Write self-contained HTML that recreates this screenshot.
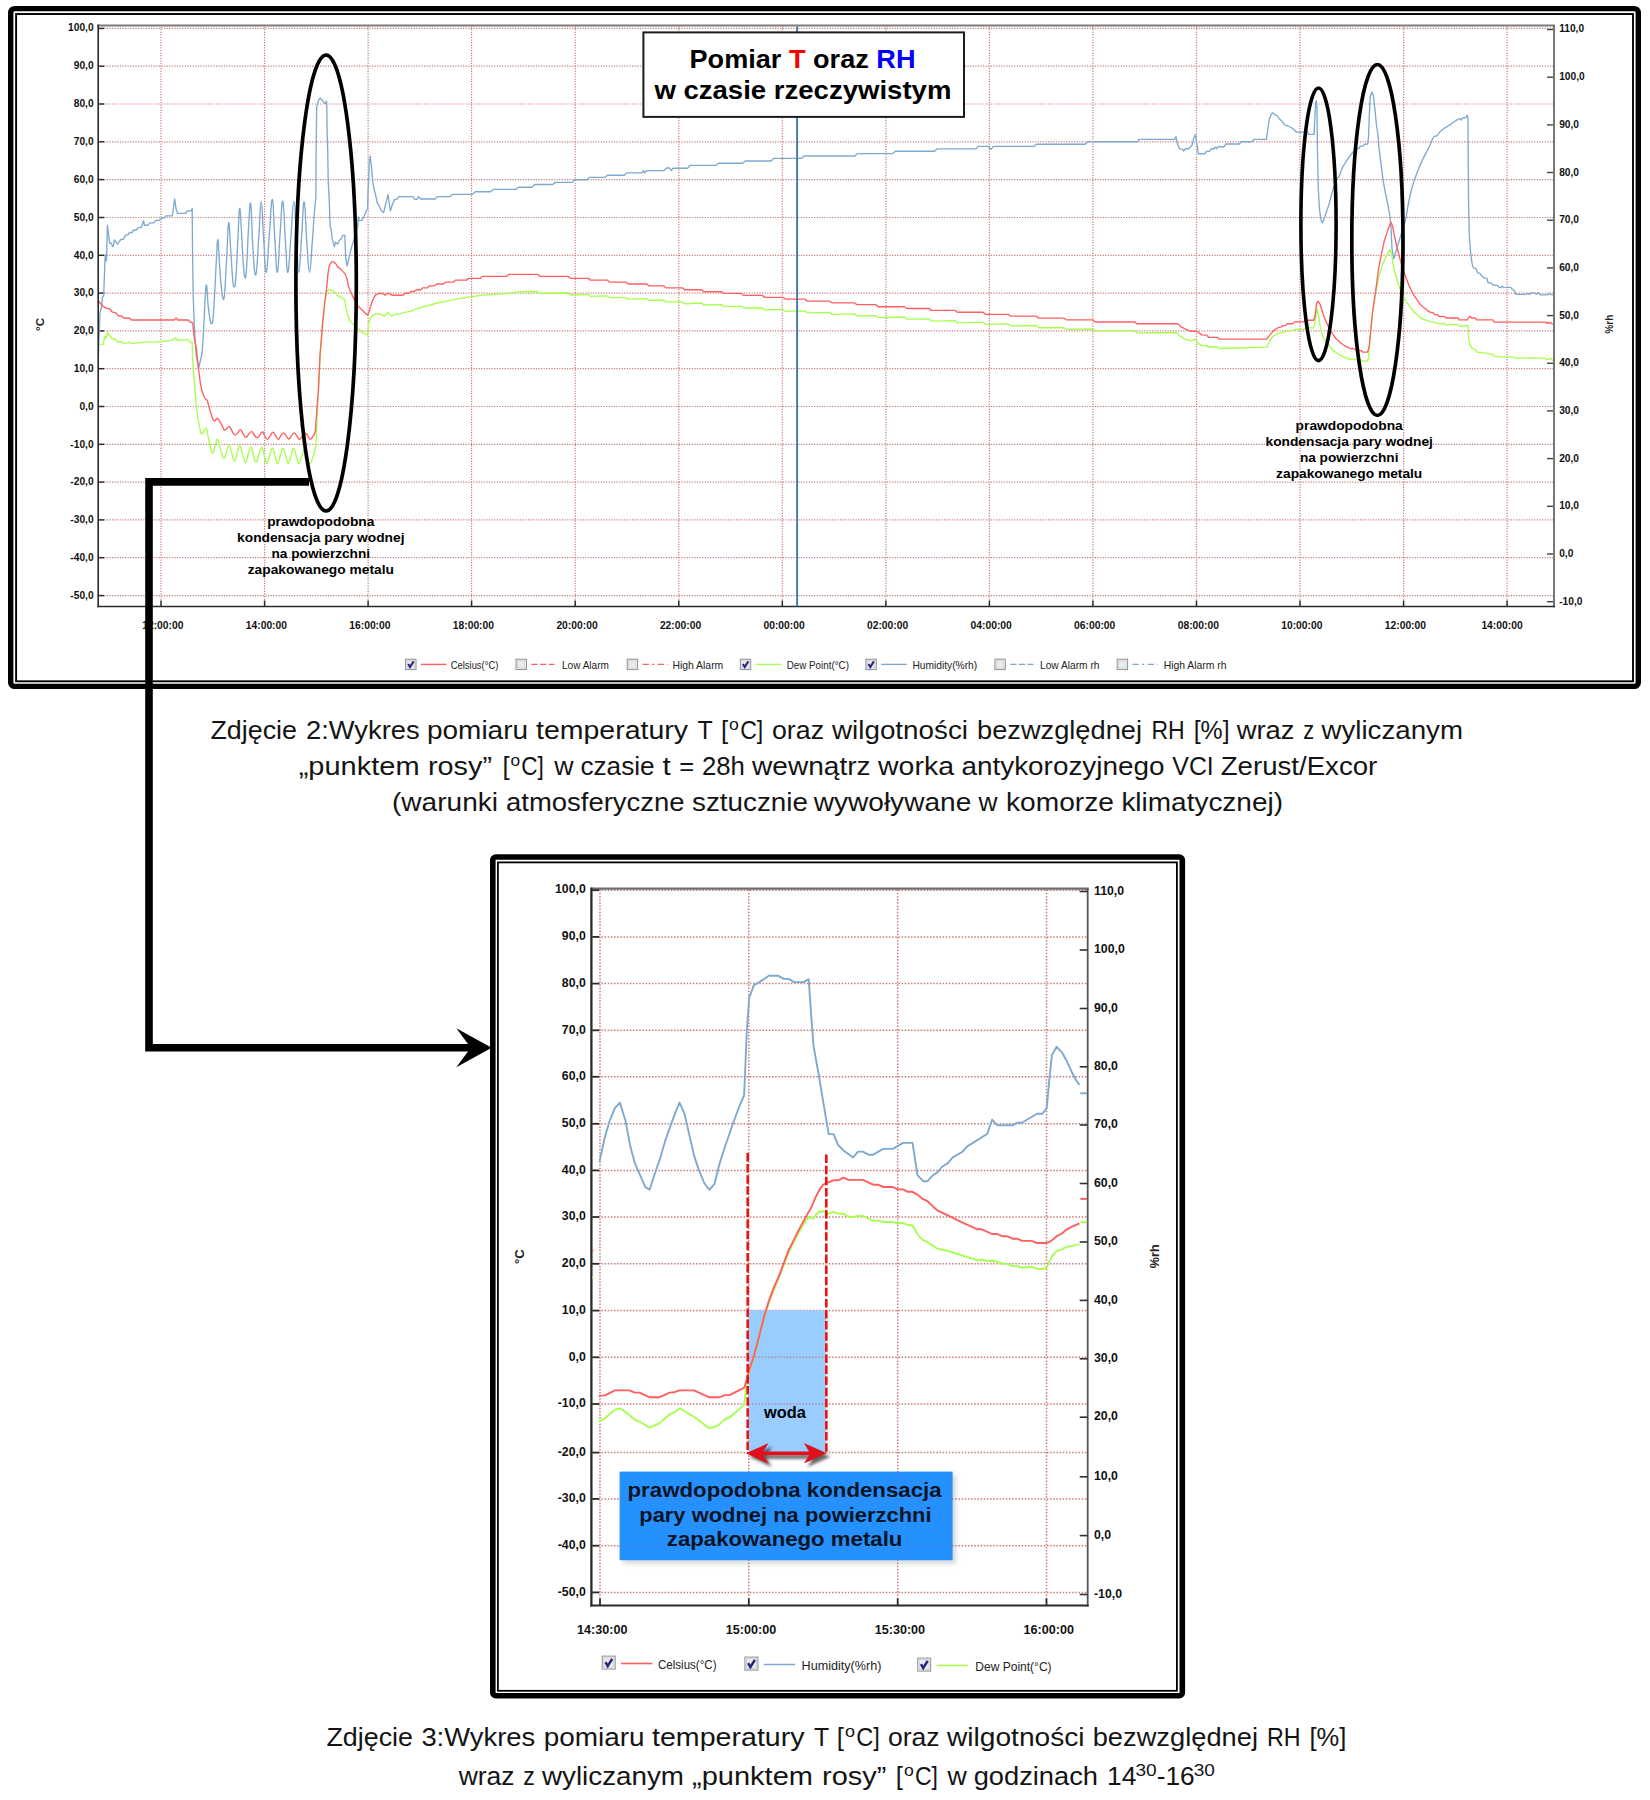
<!DOCTYPE html>
<html lang="pl"><head><meta charset="utf-8"><title>Wykres pomiaru T oraz RH</title>
<style>html,body{margin:0;padding:0;background:#fff}body{width:1650px;height:1800px;overflow:hidden}svg{display:block;font-family:"Liberation Sans", sans-serif}</style></head><body>
<svg width="1650" height="1800" viewBox="0 0 1650 1800">
<defs><filter id="blur1" x="-20%" y="-50%" width="140%" height="200%"><feGaussianBlur stdDeviation="1.6"/></filter><filter id="blur2" x="-10%" y="-10%" width="120%" height="120%"><feGaussianBlur stdDeviation="2.5"/></filter></defs>
<rect width="1650" height="1800" fill="#fff"/>
<rect x="10.7" y="8.6" width="1627.6" height="677.8" rx="4" fill="#fff" stroke="#000" stroke-width="5.4"/>
<rect x="16.1" y="14" width="1616.9" height="667.3" fill="none" stroke="#000" stroke-width="1.9"/>
<line x1="104.2" y1="28.4" x2="1553.0" y2="28.4" stroke="#c97b7b" stroke-width="1.2" stroke-dasharray="1.2 1.4"/>
<line x1="104.2" y1="66.2" x2="1553.0" y2="66.2" stroke="#c97b7b" stroke-width="1.2" stroke-dasharray="1.2 1.4"/>
<line x1="104.2" y1="104.0" x2="1553.0" y2="104.0" stroke="#c97b7b" stroke-width="1.2" stroke-dasharray="1.2 1.4"/>
<line x1="104.2" y1="141.8" x2="1553.0" y2="141.8" stroke="#c97b7b" stroke-width="1.2" stroke-dasharray="1.2 1.4"/>
<line x1="104.2" y1="179.6" x2="1553.0" y2="179.6" stroke="#c97b7b" stroke-width="1.2" stroke-dasharray="1.2 1.4"/>
<line x1="104.2" y1="217.5" x2="1553.0" y2="217.5" stroke="#c97b7b" stroke-width="1.2" stroke-dasharray="1.2 1.4"/>
<line x1="104.2" y1="255.3" x2="1553.0" y2="255.3" stroke="#c97b7b" stroke-width="1.2" stroke-dasharray="1.2 1.4"/>
<line x1="104.2" y1="293.1" x2="1553.0" y2="293.1" stroke="#c97b7b" stroke-width="1.2" stroke-dasharray="1.2 1.4"/>
<line x1="104.2" y1="330.9" x2="1553.0" y2="330.9" stroke="#c97b7b" stroke-width="1.2" stroke-dasharray="1.2 1.4"/>
<line x1="104.2" y1="368.7" x2="1553.0" y2="368.7" stroke="#c97b7b" stroke-width="1.2" stroke-dasharray="1.2 1.4"/>
<line x1="104.2" y1="406.5" x2="1553.0" y2="406.5" stroke="#c97b7b" stroke-width="1.2" stroke-dasharray="1.2 1.4"/>
<line x1="104.2" y1="444.3" x2="1553.0" y2="444.3" stroke="#c97b7b" stroke-width="1.2" stroke-dasharray="1.2 1.4"/>
<line x1="104.2" y1="482.1" x2="1553.0" y2="482.1" stroke="#c97b7b" stroke-width="1.2" stroke-dasharray="1.2 1.4"/>
<line x1="104.2" y1="519.9" x2="1553.0" y2="519.9" stroke="#c97b7b" stroke-width="1.2" stroke-dasharray="1.2 1.4"/>
<line x1="104.2" y1="557.7" x2="1553.0" y2="557.7" stroke="#c97b7b" stroke-width="1.2" stroke-dasharray="1.2 1.4"/>
<line x1="104.2" y1="595.6" x2="1553.0" y2="595.6" stroke="#c97b7b" stroke-width="1.2" stroke-dasharray="1.2 1.4"/>
<line x1="161.0" y1="26.5" x2="161.0" y2="600.5" stroke="#c97b7b" stroke-width="1.2" stroke-dasharray="1.2 1.4"/>
<line x1="264.6" y1="26.5" x2="264.6" y2="600.5" stroke="#c97b7b" stroke-width="1.2" stroke-dasharray="1.2 1.4"/>
<line x1="368.1" y1="26.5" x2="368.1" y2="600.5" stroke="#c97b7b" stroke-width="1.2" stroke-dasharray="1.2 1.4"/>
<line x1="471.6" y1="26.5" x2="471.6" y2="600.5" stroke="#c97b7b" stroke-width="1.2" stroke-dasharray="1.2 1.4"/>
<line x1="575.2" y1="26.5" x2="575.2" y2="600.5" stroke="#c97b7b" stroke-width="1.2" stroke-dasharray="1.2 1.4"/>
<line x1="678.8" y1="26.5" x2="678.8" y2="600.5" stroke="#c97b7b" stroke-width="1.2" stroke-dasharray="1.2 1.4"/>
<line x1="782.3" y1="26.5" x2="782.3" y2="600.5" stroke="#c97b7b" stroke-width="1.2" stroke-dasharray="1.2 1.4"/>
<line x1="885.9" y1="26.5" x2="885.9" y2="600.5" stroke="#c97b7b" stroke-width="1.2" stroke-dasharray="1.2 1.4"/>
<line x1="989.4" y1="26.5" x2="989.4" y2="600.5" stroke="#c97b7b" stroke-width="1.2" stroke-dasharray="1.2 1.4"/>
<line x1="1092.9" y1="26.5" x2="1092.9" y2="600.5" stroke="#c97b7b" stroke-width="1.2" stroke-dasharray="1.2 1.4"/>
<line x1="1196.5" y1="26.5" x2="1196.5" y2="600.5" stroke="#c97b7b" stroke-width="1.2" stroke-dasharray="1.2 1.4"/>
<line x1="1300.0" y1="26.5" x2="1300.0" y2="600.5" stroke="#c97b7b" stroke-width="1.2" stroke-dasharray="1.2 1.4"/>
<line x1="1403.6" y1="26.5" x2="1403.6" y2="600.5" stroke="#c97b7b" stroke-width="1.2" stroke-dasharray="1.2 1.4"/>
<line x1="1507.1" y1="26.5" x2="1507.1" y2="600.5" stroke="#c97b7b" stroke-width="1.2" stroke-dasharray="1.2 1.4"/>
<line x1="97.4" y1="25.5" x2="1555.0" y2="25.5" stroke="#7d7d7d" stroke-width="2"/>
<line x1="1554.0" y1="25.5" x2="1554.0" y2="607.3" stroke="#777" stroke-width="2"/>
<line x1="98.2" y1="28.4" x2="104.2" y2="28.4" stroke="#2a2a2a" stroke-width="1.5"/>
<text x="93.6" y="30.9" font-size="10.2" font-weight="bold" text-anchor="end" fill="#111">100,0</text>
<line x1="98.2" y1="66.2" x2="104.2" y2="66.2" stroke="#2a2a2a" stroke-width="1.5"/>
<text x="93.6" y="69.4" font-size="10.2" font-weight="bold" text-anchor="end" fill="#111">90,0</text>
<line x1="98.2" y1="104.0" x2="104.2" y2="104.0" stroke="#2a2a2a" stroke-width="1.5"/>
<text x="93.6" y="107.2" font-size="10.2" font-weight="bold" text-anchor="end" fill="#111">80,0</text>
<line x1="98.2" y1="141.8" x2="104.2" y2="141.8" stroke="#2a2a2a" stroke-width="1.5"/>
<text x="93.6" y="145.0" font-size="10.2" font-weight="bold" text-anchor="end" fill="#111">70,0</text>
<line x1="98.2" y1="179.6" x2="104.2" y2="179.6" stroke="#2a2a2a" stroke-width="1.5"/>
<text x="93.6" y="182.8" font-size="10.2" font-weight="bold" text-anchor="end" fill="#111">60,0</text>
<line x1="98.2" y1="217.5" x2="104.2" y2="217.5" stroke="#2a2a2a" stroke-width="1.5"/>
<text x="93.6" y="220.7" font-size="10.2" font-weight="bold" text-anchor="end" fill="#111">50,0</text>
<line x1="98.2" y1="255.3" x2="104.2" y2="255.3" stroke="#2a2a2a" stroke-width="1.5"/>
<text x="93.6" y="258.5" font-size="10.2" font-weight="bold" text-anchor="end" fill="#111">40,0</text>
<line x1="98.2" y1="293.1" x2="104.2" y2="293.1" stroke="#2a2a2a" stroke-width="1.5"/>
<text x="93.6" y="296.3" font-size="10.2" font-weight="bold" text-anchor="end" fill="#111">30,0</text>
<line x1="98.2" y1="330.9" x2="104.2" y2="330.9" stroke="#2a2a2a" stroke-width="1.5"/>
<text x="93.6" y="334.1" font-size="10.2" font-weight="bold" text-anchor="end" fill="#111">20,0</text>
<line x1="98.2" y1="368.7" x2="104.2" y2="368.7" stroke="#2a2a2a" stroke-width="1.5"/>
<text x="93.6" y="371.9" font-size="10.2" font-weight="bold" text-anchor="end" fill="#111">10,0</text>
<line x1="98.2" y1="406.5" x2="104.2" y2="406.5" stroke="#2a2a2a" stroke-width="1.5"/>
<text x="93.6" y="409.7" font-size="10.2" font-weight="bold" text-anchor="end" fill="#111">0,0</text>
<line x1="98.2" y1="444.3" x2="104.2" y2="444.3" stroke="#2a2a2a" stroke-width="1.5"/>
<text x="93.6" y="447.5" font-size="10.2" font-weight="bold" text-anchor="end" fill="#111">-10,0</text>
<line x1="98.2" y1="482.1" x2="104.2" y2="482.1" stroke="#2a2a2a" stroke-width="1.5"/>
<text x="93.6" y="485.3" font-size="10.2" font-weight="bold" text-anchor="end" fill="#111">-20,0</text>
<line x1="98.2" y1="519.9" x2="104.2" y2="519.9" stroke="#2a2a2a" stroke-width="1.5"/>
<text x="93.6" y="523.1" font-size="10.2" font-weight="bold" text-anchor="end" fill="#111">-30,0</text>
<line x1="98.2" y1="557.7" x2="104.2" y2="557.7" stroke="#2a2a2a" stroke-width="1.5"/>
<text x="93.6" y="560.9" font-size="10.2" font-weight="bold" text-anchor="end" fill="#111">-40,0</text>
<line x1="98.2" y1="595.6" x2="104.2" y2="595.6" stroke="#2a2a2a" stroke-width="1.5"/>
<text x="93.6" y="598.8" font-size="10.2" font-weight="bold" text-anchor="end" fill="#111">-50,0</text>
<line x1="1547.0" y1="29.5" x2="1554.0" y2="29.5" stroke="#444" stroke-width="1.4"/>
<text x="1559.2" y="32.0" font-size="10.2" font-weight="bold" text-anchor="start" fill="#111">110,0</text>
<line x1="1547.0" y1="77.2" x2="1554.0" y2="77.2" stroke="#444" stroke-width="1.4"/>
<text x="1559.2" y="80.3" font-size="10.2" font-weight="bold" text-anchor="start" fill="#111">100,0</text>
<line x1="1547.0" y1="124.9" x2="1554.0" y2="124.9" stroke="#444" stroke-width="1.4"/>
<text x="1559.2" y="128.0" font-size="10.2" font-weight="bold" text-anchor="start" fill="#111">90,0</text>
<line x1="1547.0" y1="172.5" x2="1554.0" y2="172.5" stroke="#444" stroke-width="1.4"/>
<text x="1559.2" y="175.6" font-size="10.2" font-weight="bold" text-anchor="start" fill="#111">80,0</text>
<line x1="1547.0" y1="220.2" x2="1554.0" y2="220.2" stroke="#444" stroke-width="1.4"/>
<text x="1559.2" y="223.3" font-size="10.2" font-weight="bold" text-anchor="start" fill="#111">70,0</text>
<line x1="1547.0" y1="267.9" x2="1554.0" y2="267.9" stroke="#444" stroke-width="1.4"/>
<text x="1559.2" y="271.0" font-size="10.2" font-weight="bold" text-anchor="start" fill="#111">60,0</text>
<line x1="1547.0" y1="315.6" x2="1554.0" y2="315.6" stroke="#444" stroke-width="1.4"/>
<text x="1559.2" y="318.7" font-size="10.2" font-weight="bold" text-anchor="start" fill="#111">50,0</text>
<line x1="1547.0" y1="363.3" x2="1554.0" y2="363.3" stroke="#444" stroke-width="1.4"/>
<text x="1559.2" y="366.4" font-size="10.2" font-weight="bold" text-anchor="start" fill="#111">40,0</text>
<line x1="1547.0" y1="410.9" x2="1554.0" y2="410.9" stroke="#444" stroke-width="1.4"/>
<text x="1559.2" y="414.0" font-size="10.2" font-weight="bold" text-anchor="start" fill="#111">30,0</text>
<line x1="1547.0" y1="458.6" x2="1554.0" y2="458.6" stroke="#444" stroke-width="1.4"/>
<text x="1559.2" y="461.7" font-size="10.2" font-weight="bold" text-anchor="start" fill="#111">20,0</text>
<line x1="1547.0" y1="506.3" x2="1554.0" y2="506.3" stroke="#444" stroke-width="1.4"/>
<text x="1559.2" y="509.4" font-size="10.2" font-weight="bold" text-anchor="start" fill="#111">10,0</text>
<line x1="1547.0" y1="554.0" x2="1554.0" y2="554.0" stroke="#444" stroke-width="1.4"/>
<text x="1559.2" y="557.1" font-size="10.2" font-weight="bold" text-anchor="start" fill="#111">0,0</text>
<line x1="1547.0" y1="601.7" x2="1554.0" y2="601.7" stroke="#444" stroke-width="1.4"/>
<text x="1559.2" y="604.8" font-size="10.2" font-weight="bold" text-anchor="start" fill="#111">-10,0</text>
<line x1="161.0" y1="600.5" x2="161.0" y2="606.5" stroke="#2a2a2a" stroke-width="1.5"/>
<text x="162.8" y="629.0" font-size="10.3" font-weight="bold" text-anchor="middle" fill="#111">12:00:00</text>
<line x1="264.6" y1="600.5" x2="264.6" y2="606.5" stroke="#2a2a2a" stroke-width="1.5"/>
<text x="266.4" y="629.0" font-size="10.3" font-weight="bold" text-anchor="middle" fill="#111">14:00:00</text>
<line x1="368.1" y1="600.5" x2="368.1" y2="606.5" stroke="#2a2a2a" stroke-width="1.5"/>
<text x="369.9" y="629.0" font-size="10.3" font-weight="bold" text-anchor="middle" fill="#111">16:00:00</text>
<line x1="471.6" y1="600.5" x2="471.6" y2="606.5" stroke="#2a2a2a" stroke-width="1.5"/>
<text x="473.4" y="629.0" font-size="10.3" font-weight="bold" text-anchor="middle" fill="#111">18:00:00</text>
<line x1="575.2" y1="600.5" x2="575.2" y2="606.5" stroke="#2a2a2a" stroke-width="1.5"/>
<text x="577.0" y="629.0" font-size="10.3" font-weight="bold" text-anchor="middle" fill="#111">20:00:00</text>
<line x1="678.8" y1="600.5" x2="678.8" y2="606.5" stroke="#2a2a2a" stroke-width="1.5"/>
<text x="680.5" y="629.0" font-size="10.3" font-weight="bold" text-anchor="middle" fill="#111">22:00:00</text>
<line x1="782.3" y1="600.5" x2="782.3" y2="606.5" stroke="#2a2a2a" stroke-width="1.5"/>
<text x="784.1" y="629.0" font-size="10.3" font-weight="bold" text-anchor="middle" fill="#111">00:00:00</text>
<line x1="885.9" y1="600.5" x2="885.9" y2="606.5" stroke="#2a2a2a" stroke-width="1.5"/>
<text x="887.6" y="629.0" font-size="10.3" font-weight="bold" text-anchor="middle" fill="#111">02:00:00</text>
<line x1="989.4" y1="600.5" x2="989.4" y2="606.5" stroke="#2a2a2a" stroke-width="1.5"/>
<text x="991.2" y="629.0" font-size="10.3" font-weight="bold" text-anchor="middle" fill="#111">04:00:00</text>
<line x1="1092.9" y1="600.5" x2="1092.9" y2="606.5" stroke="#2a2a2a" stroke-width="1.5"/>
<text x="1094.7" y="629.0" font-size="10.3" font-weight="bold" text-anchor="middle" fill="#111">06:00:00</text>
<line x1="1196.5" y1="600.5" x2="1196.5" y2="606.5" stroke="#2a2a2a" stroke-width="1.5"/>
<text x="1198.3" y="629.0" font-size="10.3" font-weight="bold" text-anchor="middle" fill="#111">08:00:00</text>
<line x1="1300.0" y1="600.5" x2="1300.0" y2="606.5" stroke="#2a2a2a" stroke-width="1.5"/>
<text x="1301.8" y="629.0" font-size="10.3" font-weight="bold" text-anchor="middle" fill="#111">10:00:00</text>
<line x1="1403.6" y1="600.5" x2="1403.6" y2="606.5" stroke="#2a2a2a" stroke-width="1.5"/>
<text x="1405.4" y="629.0" font-size="10.3" font-weight="bold" text-anchor="middle" fill="#111">12:00:00</text>
<line x1="1507.1" y1="600.5" x2="1507.1" y2="606.5" stroke="#2a2a2a" stroke-width="1.5"/>
<text x="1502.0" y="629.0" font-size="10.3" font-weight="bold" text-anchor="middle" fill="#111">14:00:00</text>
<text transform="translate(43.8,324.4) rotate(-90)" font-size="11.6" font-weight="bold" text-anchor="middle" fill="#222">°C</text>
<text transform="translate(1613.0,324.2) rotate(-90)" font-size="10.1" font-weight="bold" text-anchor="middle" fill="#222">%rh</text>
<path d="M98.4 355.0L99.9 313.0L101.8 306.0L102.3 297.6L103.7 295.6L104.7 267.5L105.2 254.8L105.9 260.7L106.5 260.7L107.4 225.2L109.6 243.2L110.7 242.7L113.0 246.9L114.4 240.0L117.5 244.1L120.8 239.5L123.2 239.3L125.9 234.9L128.0 234.9L129.5 232.5L131.9 232.5L133.9 230.0L136.3 230.0L138.2 227.6L141.2 227.6L143.6 220.8L144.4 225.2L148.0 225.2L149.9 222.8L153.8 222.8L155.7 220.3L159.6 220.3L161.1 218.1L164.0 218.1L165.9 215.8L172.3 215.8L174.7 199.0L176.1 209.2L177.6 213.3L185.9 213.3L187.3 210.9L191.2 210.9L192.2 208.7L192.5 248.0L193.2 296.6L194.6 331.6L196.1 355.0L198.6 368.5L201.9 354.0C203.0 344.6 203.1 338.4 203.8 325.8C204.5 313.2 204.7 305.5 205.3 296.6C205.9 287.7 206.0 283.3 206.6 285.4C207.2 287.5 207.4 298.7 208.2 306.3C209.0 313.9 209.5 316.3 210.2 320.0C210.9 323.7 211.0 323.7 211.6 323.3C212.2 322.9 212.4 326.0 213.1 318.0C213.8 310.0 214.3 300.2 215.0 286.9C215.7 273.6 215.9 268.1 216.5 257.7C217.1 247.3 217.3 238.7 217.9 239.8C218.5 240.9 218.7 252.2 219.4 262.6C220.1 273.0 220.5 278.9 221.3 286.9C222.1 294.9 222.4 297.9 223.1 299.0C223.8 300.1 223.9 300.9 224.7 291.8C225.5 282.7 225.8 272.9 226.7 257.7C227.6 242.5 227.7 224.9 228.6 222.8C229.5 220.7 229.7 236.0 230.6 248.0C231.5 260.0 231.7 268.6 232.5 277.2C233.3 285.8 233.5 286.9 234.2 286.9C234.9 286.9 235.1 287.9 235.9 277.2C236.7 266.5 237.1 253.4 237.9 238.3C238.7 223.2 238.9 210.8 239.6 208.7C240.3 206.6 240.5 216.7 241.3 228.6C242.1 240.5 242.4 251.8 243.2 262.6C244.0 273.4 244.3 276.6 245.0 277.7C245.7 278.8 245.8 278.3 246.6 267.5C247.4 256.7 247.6 242.6 248.5 228.6C249.4 214.6 249.7 199.5 250.7 203.8C251.7 208.1 251.8 232.4 252.9 248.0C254.0 263.6 254.5 276.9 255.8 274.8C257.1 272.7 257.5 254.4 258.7 238.3C259.9 222.2 260.1 201.4 261.2 201.4C262.3 201.4 262.5 222.7 263.6 238.3C264.7 253.9 265.0 273.4 266.3 272.3C267.6 271.2 268.1 249.4 269.4 233.4C270.7 217.4 271.2 198.3 272.4 199.4C273.6 200.5 273.7 222.3 274.8 238.3C275.9 254.3 276.2 273.4 277.4 272.3C278.6 271.2 278.9 249.0 280.1 233.4C281.3 217.8 281.6 199.2 282.8 201.4C284.0 203.6 284.4 227.6 285.5 243.2C286.6 258.8 286.7 273.4 287.9 272.3C289.1 271.2 289.5 253.9 290.8 238.3C292.1 222.7 292.6 201.4 293.9 201.4C295.2 201.4 295.4 222.7 296.5 238.3C297.6 253.9 297.7 272.3 298.8 272.3C299.9 272.3 300.3 253.8 301.5 238.3C302.7 222.8 303.0 200.8 304.2 201.9C305.4 203.0 305.7 227.7 306.9 243.2C308.1 258.7 308.3 272.3 309.5 272.3C310.7 272.3 311.1 257.1 312.2 243.2C313.3 229.3 313.8 219.3 314.6 209.2L315.9 197.5L316.1 150.0L316.7 107.2L317.9 102.3L319.1 99.3L320.3 98.1L322.2 100.2L324.0 102.7L325.5 103.6L326.6 101.1L326.8 107.2L327.1 131.7L327.7 150.0L328.2 180.0L329.2 199.4L329.9 218.9L330.2 227.1L331.1 228.6L332.1 238.3L333.6 244.1L334.4 246.6L335.5 242.2L337.5 244.1L339.4 240.3L341.4 238.8L342.8 235.4L344.8 235.4L345.7 257.7L347.0 266.0L349.1 257.7L351.6 247.1L354.0 239.3L355.9 232.5L357.9 225.7L358.4 216.9L359.3 220.3L361.8 220.3L364.2 216.0L366.1 211.1L367.6 208.7L368.1 189.7L368.6 180.0L369.3 162.0L370.2 156.0L371.3 165.0L372.6 180.0L373.9 188.7L375.9 196.5L377.3 202.8L379.3 206.2L381.2 210.6L383.6 212.8L385.6 204.3L388.0 194.6L389.5 205.3L390.4 210.9L392.4 204.3L394.8 199.4L397.2 199.0L398.7 196.7L413.1 196.6L414.8 199.4L417.0 199.4L418.5 196.6L420.7 199.0L434.9 199.0L437.5 196.6L450.2 196.6L452.4 194.4L472.0 194.4L475.3 191.7L490.6 191.7L493.4 189.4L515.6 189.4L518.9 187.2L532.0 187.2L534.8 184.5L552.7 184.5L555.4 182.4L572.4 182.4L574.6 179.7L587.2 179.7L589.8 177.3L605.1 177.3L607.7 175.2L624.3 175.2L626.9 172.8L642.2 172.8L643.5 170.6L644.8 172.8L647.0 170.6L664.0 170.6L666.6 168.0L669.5 168.0L671.2 170.6L673.2 168.2L687.6 168.2L690.2 165.3L715.9 165.3L718.6 163.2L742.6 163.2L745.2 161.0L771.3 161.0L773.5 158.4L801.5 158.4L804.1 156.0L854.9 156.0L857.5 153.6L892.7 153.6L895.3 151.2L934.6 151.2L937.2 148.8L976.0 148.8L978.2 146.4L988.0 146.4L990.9 149.2L993.5 146.4L1033.8 146.4L1036.5 144.2L1085.1 144.2L1087.7 141.7L1137.3 141.7L1139.3 139.3L1174.7 139.3L1176.0 136.7L1177.3 143.3L1179.3 148.7L1182.7 149.3L1183.7 151.1L1185.3 148.7L1188.7 148.7L1192.0 145.3L1194.0 137.3L1195.3 134.7L1196.7 143.3L1198.4 153.7L1204.7 153.7L1206.7 151.3L1209.3 151.3L1211.3 148.7L1214.0 148.7L1215.3 147.1L1216.7 148.7L1218.0 146.7L1224.0 146.7L1226.0 144.0L1239.3 144.0L1241.3 141.7L1252.0 141.7L1254.0 139.3L1266.4 139.3L1267.7 130.0L1269.3 119.3L1271.3 114.0L1272.7 112.7L1274.7 114.7L1276.7 115.3L1279.3 118.7L1282.0 121.3L1284.7 124.9L1288.0 126.0L1292.0 128.0L1294.4 130.2L1296.3 132.1L1302.6 132.1L1304.6 131.4L1307.5 132.1L1309.0 134.4L1314.1 134.4L1314.8 118.0L1315.8 101.5L1316.4 101.0L1317.0 108.3L1317.4 147.2L1318.2 186.1L1319.2 205.5C1319.7 212.3 1320.0 213.4 1320.6 217.2C1321.2 221.0 1321.3 222.0 1321.9 222.6C1322.5 223.2 1322.6 222.1 1323.5 220.1C1324.4 218.1 1324.6 217.4 1326.0 213.3C1327.4 209.2 1328.3 206.7 1329.8 201.6C1331.3 196.5 1331.3 194.6 1332.8 189.9C1334.3 185.2 1335.1 183.4 1336.6 180.2C1338.1 177.0 1338.4 178.0 1339.6 175.4C1340.8 172.8 1340.7 171.4 1342.0 168.6C1343.3 165.8 1343.8 165.3 1345.4 162.7C1347.0 160.1 1347.6 159.3 1349.3 156.9C1351.0 154.5 1351.7 153.7 1353.2 152.0C1354.7 150.3 1354.9 149.8 1356.1 149.1C1357.3 148.4 1357.5 149.2 1358.5 148.6C1359.5 148.0 1359.5 146.7 1360.5 146.2C1361.5 145.7 1362.0 146.7 1362.9 146.2C1363.8 145.7 1363.7 144.6 1364.8 144.1C1365.9 143.6 1366.9 145.3 1367.7 143.8L1368.5 137.5L1369.2 118.0L1370.2 96.6L1371.9 92.0L1373.6 96.6L1375.0 110.3L1376.5 125.8L1378.0 134.5L1378.9 147.2L1380.9 162.7L1382.8 178.3L1384.8 189.9L1387.2 201.6L1389.1 211.3L1390.1 217.5L1391.1 229.2L1392.0 248.6L1393.5 258.3C1394.4 258.9 1394.7 255.1 1395.9 251.5C1397.1 247.9 1397.3 246.7 1398.8 241.8C1400.3 236.9 1401.2 234.1 1402.7 229.2C1404.2 224.3 1404.3 225.3 1405.6 219.4C1406.9 213.5 1407.3 209.2 1408.6 202.5C1409.9 195.8 1410.3 194.1 1411.6 189.0C1412.9 183.9 1413.2 183.5 1414.7 179.2C1416.2 174.9 1416.7 173.5 1418.3 169.5C1419.9 165.5 1420.4 164.4 1422.0 160.9C1423.6 157.4 1423.9 157.1 1425.7 153.6C1427.5 150.1 1428.3 148.6 1430.0 145.0C1431.7 141.4 1432.1 139.1 1433.6 137.1C1435.1 135.1 1435.2 137.0 1436.7 135.8C1438.2 134.6 1438.7 133.2 1440.3 131.6C1441.9 130.0 1442.1 129.8 1444.0 128.5C1445.9 127.2 1446.7 126.9 1448.9 125.5C1451.1 124.1 1451.9 123.3 1453.8 122.0C1455.7 120.7 1456.2 120.3 1457.5 119.6C1458.8 118.9 1459.1 118.6 1459.9 118.7C1460.7 118.8 1460.4 120.2 1461.1 120.0C1461.8 119.8 1461.9 118.5 1463.0 117.9C1464.1 117.4 1465.1 118.1 1466.0 117.5L1467.2 115.1L1468.0 118.1L1468.2 163.3L1468.7 212.2L1469.4 236.7L1470.7 253.8L1472.1 263.6L1473.3 267.9L1475.8 268.5L1477.6 272.8L1479.5 273.1L1481.3 275.2L1483.7 277.7L1486.8 278.3L1488.0 282.5L1491.1 283.1L1492.9 285.0L1497.2 285.4L1499.6 287.4L1501.5 287.4L1502.4 286.2L1503.3 287.1L1510.6 287.4L1512.5 289.5L1514.3 290.5L1516.1 294.4L1525.9 294.4L1527.8 293.2L1529.6 294.4L1531.4 292.9L1534.5 292.9L1536.3 294.2L1538.1 292.9L1540.6 294.8L1547.9 294.8L1549.8 293.5L1551.6 294.8L1553.8 294.8" fill="none" stroke="#7fa9cf" stroke-width="1.35" stroke-linejoin="round"/>
<path d="M98.3 345.6L99.4 344.7L103.3 344.2L104.7 336.5L106.2 337.9L107.4 332.6L109.6 335.5L112.5 339.4L114.4 338.4L118.3 342.3L121.2 341.3L123.7 343.3L129.5 342.3L131.9 343.7L143.6 342.1L153.3 342.1L163.0 341.3L171.8 340.4L175.5 337.9L177.6 340.4L187.8 339.7L189.7 342.1L192.1 342.1L192.6 359.2L194.1 378.6L196.0 402.9L198.0 419.4L200.4 431.1C201.3 434.3 200.9 434.1 201.9 433.8C202.9 433.5 203.7 430.7 204.8 429.6C205.9 428.5 206.0 427.3 206.7 428.9C207.4 430.5 207.3 432.8 208.2 436.9C209.1 441.0 209.6 444.0 210.6 447.6C211.6 451.2 211.8 453.4 212.8 453.2C213.8 453.0 213.9 449.7 215.0 446.6C216.1 443.5 216.5 438.9 217.7 439.3C218.9 439.7 219.0 444.4 220.3 448.6C221.6 452.8 222.3 457.9 223.7 458.5C225.1 459.1 225.4 454.5 226.6 451.5C227.8 448.5 228.0 444.5 229.1 444.7C230.2 444.9 230.3 448.8 231.5 452.4C232.7 456.0 233.3 461.2 234.6 461.2C235.9 461.2 236.2 455.8 237.3 452.4C238.4 449.0 238.6 445.2 239.8 445.6C241.0 446.0 241.4 450.6 242.7 454.4C244.0 458.2 244.3 462.9 245.6 462.7C246.9 462.5 247.3 456.8 248.5 453.4C249.7 450.0 249.8 446.9 250.9 447.1C252.0 447.3 252.3 451.0 253.4 454.4C254.5 457.8 254.7 462.6 256.0 462.4C257.3 462.2 257.9 456.7 259.2 453.4C260.5 450.1 260.9 446.8 262.1 447.4C263.3 448.0 263.4 452.8 264.5 456.3C265.6 459.8 265.8 463.7 267.0 463.3C268.2 462.9 268.7 457.7 269.9 454.4C271.1 451.1 271.3 447.7 272.5 448.1C273.7 448.5 274.1 452.9 275.2 456.3C276.3 459.7 276.5 464.0 277.7 463.6C278.9 463.2 279.4 457.7 280.6 454.4C281.8 451.1 281.8 448.0 283.0 448.4C284.2 448.8 284.7 453.0 285.9 456.3C287.1 459.6 287.2 463.7 288.4 463.3C289.6 462.9 290.1 457.7 291.3 454.4C292.5 451.1 292.5 447.8 293.7 448.4C294.9 449.0 295.4 454.0 296.6 457.3C297.8 460.6 297.8 464.0 299.0 463.6C300.2 463.2 300.7 458.6 302.0 455.4C303.3 452.2 303.7 448.4 304.9 449.0C306.1 449.6 306.2 455.0 307.3 458.3C308.4 461.6 308.6 463.7 309.7 463.9C310.8 464.1 311.1 462.2 312.2 459.3C313.3 456.4 313.7 454.4 314.6 450.5C315.5 446.6 315.6 449.1 316.1 441.8L317.0 417.5L318.5 388.3L320.2 355.0L322.6 325.8L325.0 301.5L326.8 291.8L328.2 289.8L330.2 289.6L332.6 290.8L334.5 292.7L336.0 292.7L337.5 295.6L340.4 297.1L343.3 298.6L345.0 300.5L345.7 306.3L347.2 313.1L349.1 319.0L352.0 322.9L355.0 326.3L357.9 328.7L361.8 332.1L365.6 334.0L367.8 335.0L368.6 323.8L370.0 319.0L372.0 316.1L375.4 313.9L378.3 313.9L381.2 314.6L384.6 316.1L387.5 312.2L389.5 314.1L391.4 316.1L394.8 314.6L400.0 313.9L404.4 312.4L408.7 311.6L413.1 310.4L417.5 308.5L424.0 306.7L430.5 305.0L437.1 303.0L445.8 301.3L455.6 299.1L468.7 297.1L480.7 295.4L493.8 294.3L506.9 293.6L517.8 291.9L537.5 291.5L540.1 293.4L568.4 293.0L570.6 295.0L588.1 294.3L590.3 296.3L607.3 295.8L609.5 297.6L625.8 297.6L628.0 299.1L646.6 298.7L648.7 300.4L663.6 300.0L665.8 301.9L682.6 301.9L684.7 303.9L701.6 303.0L703.7 305.0L721.8 304.6L724.0 306.3L741.5 306.3L743.7 308.0L762.2 307.8L764.8 310.0L781.8 309.4L785.5 311.3L804.7 310.9L807.3 312.8L829.4 312.4L832.0 314.4L854.3 313.9L856.9 315.9L875.6 315.7L878.3 317.6L904.4 317.0L907.1 319.2L929.1 319.0L931.7 321.1L954.8 320.7L957.5 322.9L983.0 322.2L985.6 324.4L1008.3 323.8L1010.9 325.9L1036.0 325.5L1038.6 327.7L1063.7 327.7L1066.3 329.4L1092.7 329.0L1095.4 330.9L1134.9 330.9L1136.7 332.8L1176.7 332.5L1180.0 336.0L1185.3 339.1L1190.7 341.1L1195.3 339.1L1198.0 343.3L1202.7 345.9L1206.4 345.3L1208.7 347.5L1212.7 346.7L1216.7 346.7L1219.3 348.5L1240.0 348.0L1266.7 347.2L1268.3 344.0L1270.0 340.0L1273.3 336.0L1278.0 333.3L1281.3 332.9L1283.3 332.0L1286.0 331.7L1287.3 330.7L1292.9 330.4L1294.4 329.3L1303.6 329.3L1305.5 327.8L1313.3 327.8L1314.8 324.4L1316.0 314.7L1317.2 309.0L1318.7 316.6L1320.1 326.3C1320.8 330.2 1321.2 331.3 1322.1 334.1C1323.0 336.9 1322.9 337.0 1324.0 339.0C1325.1 341.0 1325.4 341.4 1326.9 343.3C1328.4 345.2 1329.1 345.8 1330.8 347.7C1332.5 349.6 1333.0 350.4 1334.7 351.8C1336.4 353.2 1336.9 353.0 1338.6 354.0C1340.3 355.0 1340.8 355.4 1342.5 356.3C1344.2 357.2 1344.7 357.2 1346.4 357.9C1348.1 358.6 1348.8 359.2 1350.3 359.4C1351.8 359.6 1351.7 358.7 1353.2 358.9C1354.7 359.1 1355.4 360.0 1357.1 360.2C1358.8 360.4 1359.6 359.7 1360.9 359.9L1362.9 361.3L1367.7 360.8L1368.7 357.4L1370.2 336.1L1372.6 311.8L1375.5 293.3L1378.4 278.7L1381.4 268.0L1384.3 260.3L1387.2 254.4L1390.1 249.6L1391.6 254.4L1393.5 266.1C1394.4 270.8 1394.7 271.5 1395.9 275.8C1397.1 280.1 1397.5 281.6 1398.8 285.5C1400.1 289.4 1400.5 290.3 1401.8 293.3C1403.1 296.3 1403.0 296.3 1404.7 299.1C1406.4 301.9 1407.6 303.2 1409.5 305.9C1411.4 308.6 1411.7 309.4 1413.4 311.3C1415.1 313.2 1415.6 313.2 1417.3 314.7C1419.0 316.2 1419.3 316.9 1421.2 318.1C1423.1 319.3 1424.2 319.5 1426.1 320.2C1428.0 320.9 1428.4 321.0 1430.0 321.4L1433.4 322.2L1434.7 322.7L1437.2 323.1L1438.9 323.9L1444.0 323.5L1446.1 325.2L1452.1 324.6L1458.0 324.4L1459.5 326.3L1467.3 325.5L1468.2 326.5L1468.6 337.5L1469.9 344.3L1471.6 348.1L1475.0 349.4L1477.1 352.1L1485.2 353.2L1492.4 354.3L1494.1 356.2L1499.6 356.9L1506.8 356.9L1514.0 357.2L1516.5 358.3L1523.3 358.1L1531.8 357.9L1545.0 358.3L1546.7 359.7L1548.8 359.1L1550.5 358.3L1552.2 360.0L1553.9 360.3" fill="none" stroke="#a6ff4d" stroke-width="1.35" stroke-linejoin="round"/>
<path d="M98.4 301.0L102.8 306.3L106.7 308.3L109.6 308.8L112.5 312.2L115.4 312.7L118.8 316.0L121.7 316.0L123.7 318.0L129.5 318.0L131.4 320.0L174.2 320.0L176.1 318.0L177.6 320.0L188.3 320.0L189.8 321.9L192.7 322.9L193.6 331.6L194.6 340.0L196.5 349.4L198.5 368.9L200.4 383.4C201.3 388.5 201.3 388.8 202.4 392.2C203.5 395.6 204.2 397.2 205.3 399.0C206.4 400.8 206.3 398.6 207.2 400.5C208.1 402.4 208.2 404.4 209.2 407.7C210.2 411.0 210.7 412.7 211.6 415.5C212.5 418.3 212.6 419.4 213.5 420.4C214.4 421.4 214.6 420.6 215.5 420.2C216.4 419.8 216.5 418.1 217.4 418.4C218.3 418.7 218.7 419.7 219.8 421.4C220.9 423.1 221.3 424.4 222.3 426.2C223.3 428.0 223.3 428.9 224.2 429.6C225.1 430.3 225.1 430.0 226.2 429.3C227.3 428.6 228.0 426.4 229.1 426.4C230.2 426.4 230.0 427.5 231.0 429.1C232.0 430.7 232.5 432.2 233.5 433.5C234.5 434.8 234.5 435.1 235.4 435.0C236.3 434.9 236.7 434.2 237.8 433.0C238.9 431.8 239.2 429.6 240.3 429.6C241.4 429.6 241.5 431.3 242.7 433.0C243.9 434.7 244.3 437.1 245.6 437.4C246.9 437.7 247.2 435.8 248.5 434.5C249.8 433.2 250.4 431.5 251.7 431.6C253.0 431.7 253.2 433.7 254.3 435.0C255.4 436.3 255.7 437.5 256.8 437.7C257.9 437.9 258.0 437.2 259.2 435.9C260.4 434.6 261.2 431.9 262.4 431.8C263.6 431.7 263.4 433.8 264.5 435.4C265.6 437.0 266.2 439.3 267.5 439.3C268.8 439.3 269.2 437.0 270.4 435.4C271.6 433.8 271.9 432.1 273.1 432.2C274.3 432.3 274.6 434.3 275.7 435.9C276.8 437.5 277.1 439.4 278.3 439.3C279.5 439.2 279.9 436.7 281.1 435.4C282.3 434.1 282.6 433.0 283.8 433.2C285.0 433.4 285.3 435.1 286.4 436.4C287.5 437.7 287.8 439.2 289.0 439.0C290.2 438.8 290.6 436.7 291.8 435.4C293.0 434.1 293.3 433.0 294.5 433.2C295.7 433.4 296.0 435.1 297.1 436.4C298.2 437.7 298.5 439.4 299.7 439.3C300.9 439.2 301.1 437.2 302.4 435.9C303.7 434.6 304.6 433.5 305.8 433.5C307.0 433.5 306.8 434.6 307.8 435.9C308.8 437.2 309.1 439.1 310.2 439.3C311.3 439.5 311.5 438.5 312.6 436.9C313.7 435.3 314.4 435.2 315.1 432.0C315.8 428.8 315.6 427.6 316.0 422.3L317.0 407.7L318.5 388.3L320.0 355.0L322.4 325.8L324.8 301.5L326.8 286.9L327.7 276.2L328.9 267.5C329.6 264.6 329.9 264.4 330.7 263.1C331.5 261.8 331.5 261.5 332.6 261.6C333.7 261.7 334.4 262.3 335.5 263.4C336.6 264.5 336.5 265.4 337.5 266.5C338.5 267.6 338.7 267.5 339.9 268.6C341.1 269.7 341.6 270.1 342.8 271.4C344.0 272.7 344.2 272.4 345.2 274.3C346.2 276.2 346.3 277.1 347.2 280.1C348.1 283.1 348.0 284.7 349.1 287.9C350.2 291.1 350.7 291.8 352.0 294.7C353.3 297.6 353.7 298.5 355.0 301.0C356.3 303.5 356.4 304.0 357.9 305.9C359.4 307.8 360.1 308.0 361.8 309.7C363.5 311.4 364.3 312.4 365.6 313.6L367.8 315.1L369.5 310.2L371.5 303.4L373.4 298.6L375.4 295.2L378.3 293.5L383.1 293.5L385.1 295.2L387.5 293.5L389.9 293.5L391.9 295.2L403.3 295.2L404.8 293.2L408.7 293.2L410.9 291.5L414.2 291.5L416.4 289.7L420.7 289.7L422.9 287.8L427.3 287.8L429.5 285.8L434.5 285.8L436.7 284.0L443.6 284.0L445.8 282.1L453.5 282.1L455.6 280.1L466.5 280.1L468.7 278.4L480.3 278.4L482.5 276.4L506.5 276.4L508.7 274.4L537.9 274.4L540.1 276.4L568.4 276.4L570.6 278.4L588.1 278.4L590.3 280.1L607.3 280.1L609.5 282.1L625.8 282.1L628.0 284.0L646.6 284.0L648.7 285.8L663.6 285.8L665.8 287.8L682.6 287.8L684.7 289.7L701.6 289.7L703.7 291.7L721.8 291.7L724.0 293.4L741.5 293.4L743.7 295.4L762.2 295.4L764.8 297.4L782.9 297.4L785.5 299.1L804.7 299.1L807.3 301.1L829.4 301.1L832.0 302.8L854.3 302.8L856.9 304.6L875.6 304.6L878.3 306.7L904.4 306.7L907.1 308.5L929.1 308.5L931.7 310.4L954.8 310.4L957.5 312.2L983.0 312.2L985.6 314.4L1008.3 314.4L1010.9 316.1L1036.0 316.1L1038.6 318.1L1063.7 318.1L1066.3 319.8L1092.7 319.8L1095.4 322.0L1134.9 322.0L1136.7 323.7L1177.6 323.7L1181.3 326.9L1185.3 329.1L1190.0 331.2L1196.7 331.2L1202.0 334.9L1206.7 335.2L1208.7 337.3L1217.3 337.3L1219.3 339.1L1266.7 339.1L1270.0 334.9L1274.0 330.4L1278.0 327.7L1281.3 326.9L1283.3 325.6L1286.0 325.3L1287.3 323.7L1292.9 323.7L1294.4 321.8L1303.6 321.8L1305.5 320.2L1313.8 320.2L1315.3 314.7L1316.7 303.0L1318.2 301.1L1320.1 304.5C1321.0 306.6 1321.2 308.1 1322.1 310.8C1323.0 313.5 1322.9 313.8 1324.0 316.6C1325.1 319.4 1325.4 320.3 1326.9 323.4C1328.4 326.5 1329.1 327.7 1330.8 330.7C1332.5 333.7 1333.0 334.8 1334.7 337.0C1336.4 339.2 1336.9 339.3 1338.6 340.9C1340.3 342.5 1340.8 343.0 1342.5 344.3C1344.2 345.6 1344.7 345.8 1346.4 346.7C1348.1 347.6 1348.8 348.0 1350.3 348.4C1351.8 348.8 1351.7 348.3 1353.2 348.7C1354.7 349.1 1355.4 350.0 1357.1 350.4C1358.8 350.8 1359.6 350.2 1360.9 350.6L1362.9 352.1L1367.7 352.1L1369.2 345.8L1370.7 331.2L1372.6 311.8L1375.5 292.3L1378.4 270.0L1381.4 254.4L1384.3 240.8L1387.2 232.1L1389.6 225.3L1391.1 222.2L1392.5 226.2C1393.2 229.2 1393.5 231.5 1394.5 236.0C1395.5 240.5 1395.7 241.7 1396.9 246.6C1398.1 251.5 1398.5 253.6 1399.8 258.3C1401.1 263.0 1401.4 263.9 1402.7 268.0C1404.0 272.1 1404.1 272.7 1405.6 276.8C1407.1 280.9 1407.8 282.6 1409.5 286.5C1411.2 290.4 1411.7 291.3 1413.4 294.3C1415.1 297.3 1415.6 297.7 1417.3 300.1C1419.0 302.5 1419.3 303.4 1421.2 305.4C1423.1 307.4 1424.2 307.8 1426.1 309.3C1428.0 310.8 1428.4 311.3 1430.0 312.1L1433.4 312.9L1434.7 314.6L1437.2 314.6L1438.9 316.3L1444.0 316.3L1445.7 318.0L1458.0 318.0L1459.3 319.9L1467.3 319.9L1469.7 316.1L1471.6 318.0L1475.0 318.0L1476.7 319.9L1492.8 319.9L1494.3 322.1L1545.0 322.1L1546.4 323.3L1547.5 322.2L1548.8 323.5L1550.3 322.4L1551.8 323.8L1553.9 324.1" fill="none" stroke="#ff5f5f" stroke-width="1.35" stroke-linejoin="round"/>
<line x1="1554.0" y1="25.5" x2="1554.0" y2="607.3" stroke="#777" stroke-width="2"/>
<line x1="98.2" y1="24.5" x2="98.2" y2="607.3" stroke="#2a2a2a" stroke-width="1.6"/>
<line x1="97.4" y1="606.5" x2="1555.0" y2="606.5" stroke="#2a2a2a" stroke-width="1.6"/>
<line x1="797.1" y1="26.5" x2="797.1" y2="606.5" stroke="#3f79ad" stroke-width="1.9"/>
<rect x="643.4" y="32.4" width="320.6" height="84.5" fill="#fff" stroke="#1c1c1c" stroke-width="2"/>
<text x="802.5" y="67.9" font-size="26" font-weight="bold" text-anchor="middle" fill="#000" textLength="226" lengthAdjust="spacingAndGlyphs">Pomiar <tspan fill="#ff0000">T</tspan> oraz <tspan fill="#0000ff">RH</tspan></text>
<text x="802.9" y="99.3" font-size="26" font-weight="bold" text-anchor="middle" fill="#000" textLength="297.0" lengthAdjust="spacingAndGlyphs">w czasie rzeczywistym</text>
<ellipse cx="326.1" cy="283.0" rx="30.2" ry="228.0" fill="none" stroke="#000" stroke-width="3.7"/>
<ellipse cx="1318.5" cy="224.3" rx="17.6" ry="136.3" fill="none" stroke="#000" stroke-width="3.6"/>
<ellipse cx="1377.4" cy="240" rx="25.6" ry="175.5" fill="none" stroke="#000" stroke-width="3.7"/>
<text x="320.8" y="525.9" font-size="13.2" font-weight="bold" text-anchor="middle" fill="#000" textLength="107.2" lengthAdjust="spacingAndGlyphs">prawdopodobna</text>
<text x="320.8" y="541.9" font-size="13.2" font-weight="bold" text-anchor="middle" fill="#000" textLength="167.4" lengthAdjust="spacingAndGlyphs">kondensacja pary wodnej</text>
<text x="320.8" y="558.0" font-size="13.2" font-weight="bold" text-anchor="middle" fill="#000" textLength="98.6" lengthAdjust="spacingAndGlyphs">na powierzchni</text>
<text x="320.8" y="574.0" font-size="13.2" font-weight="bold" text-anchor="middle" fill="#000" textLength="146.2" lengthAdjust="spacingAndGlyphs">zapakowanego metalu</text>
<text x="1349.2" y="430.2" font-size="13.2" font-weight="bold" text-anchor="middle" fill="#000" textLength="107.2" lengthAdjust="spacingAndGlyphs">prawdopodobna</text>
<text x="1349.2" y="446.2" font-size="13.2" font-weight="bold" text-anchor="middle" fill="#000" textLength="167.4" lengthAdjust="spacingAndGlyphs">kondensacja pary wodnej</text>
<text x="1349.2" y="462.3" font-size="13.2" font-weight="bold" text-anchor="middle" fill="#000" textLength="98.6" lengthAdjust="spacingAndGlyphs">na powierzchni</text>
<text x="1349.2" y="478.4" font-size="13.2" font-weight="bold" text-anchor="middle" fill="#000" textLength="146.2" lengthAdjust="spacingAndGlyphs">zapakowanego metalu</text>
<rect x="405.6" y="659.2" width="10.4" height="10.4" fill="#f4f4f4" stroke="#8e8f8f" stroke-width="1"/>
<rect x="407.2" y="660.8" width="7.2" height="7.2" fill="#e9ebee" stroke="#c9cdd3" stroke-width="0.8"/>
<path d="M408.2 664.0 L410.0 667.1 L413.6 661.4" fill="none" stroke="#26267e" stroke-width="2.00"/>
<line x1="420.9" y1="664.4" x2="446.4" y2="664.4" stroke="#ff5f5f" stroke-width="1.4"/>
<text x="450.8" y="668.8" font-size="10.3" font-weight="normal" text-anchor="start" fill="#222" textLength="47.5" lengthAdjust="spacingAndGlyphs">Celsius(°C)</text>
<rect x="516.0" y="659.2" width="10.4" height="10.4" fill="#f4f4f4" stroke="#8e8f8f" stroke-width="1"/>
<rect x="517.6" y="660.8" width="7.2" height="7.2" fill="#e9ebee" stroke="#c9cdd3" stroke-width="0.8"/>
<line x1="531.3" y1="664.4" x2="554.5" y2="664.4" stroke="#ff5f5f" stroke-width="1.4" stroke-dasharray="6.3 2.4"/>
<text x="562.0" y="668.8" font-size="10.3" font-weight="normal" text-anchor="start" fill="#222" textLength="46.9" lengthAdjust="spacingAndGlyphs">Low Alarm</text>
<rect x="627.2" y="659.2" width="10.4" height="10.4" fill="#f4f4f4" stroke="#8e8f8f" stroke-width="1"/>
<rect x="628.8" y="660.8" width="7.2" height="7.2" fill="#e9ebee" stroke="#c9cdd3" stroke-width="0.8"/>
<line x1="642.5" y1="664.4" x2="668.0" y2="664.4" stroke="#ff5f5f" stroke-width="1.4" stroke-dasharray="6.3 3.4 2 3.4"/>
<text x="672.4" y="668.8" font-size="10.3" font-weight="normal" text-anchor="start" fill="#222" textLength="50.9" lengthAdjust="spacingAndGlyphs">High Alarm</text>
<rect x="740.3" y="659.2" width="10.4" height="10.4" fill="#f4f4f4" stroke="#8e8f8f" stroke-width="1"/>
<rect x="741.9" y="660.8" width="7.2" height="7.2" fill="#e9ebee" stroke="#c9cdd3" stroke-width="0.8"/>
<path d="M742.9 664.0 L744.7 667.1 L748.3 661.4" fill="none" stroke="#26267e" stroke-width="2.00"/>
<line x1="755.6" y1="664.4" x2="781.1" y2="664.4" stroke="#a6ff4d" stroke-width="1.4"/>
<text x="786.8" y="668.8" font-size="10.3" font-weight="normal" text-anchor="start" fill="#222" textLength="62.1" lengthAdjust="spacingAndGlyphs">Dew Point(°C)</text>
<rect x="865.9" y="659.2" width="10.4" height="10.4" fill="#f4f4f4" stroke="#8e8f8f" stroke-width="1"/>
<rect x="867.5" y="660.8" width="7.2" height="7.2" fill="#e9ebee" stroke="#c9cdd3" stroke-width="0.8"/>
<path d="M868.5 664.0 L870.3 667.1 L873.9 661.4" fill="none" stroke="#26267e" stroke-width="2.00"/>
<line x1="881.2" y1="664.4" x2="906.7" y2="664.4" stroke="#7fa9cf" stroke-width="1.4"/>
<text x="912.4" y="668.8" font-size="10.3" font-weight="normal" text-anchor="start" fill="#222" textLength="64.8" lengthAdjust="spacingAndGlyphs">Humidity(%rh)</text>
<rect x="994.9" y="659.2" width="10.4" height="10.4" fill="#f4f4f4" stroke="#8e8f8f" stroke-width="1"/>
<rect x="996.5" y="660.8" width="7.2" height="7.2" fill="#e9ebee" stroke="#c9cdd3" stroke-width="0.8"/>
<line x1="1010.2" y1="664.4" x2="1033.4" y2="664.4" stroke="#7fa9cf" stroke-width="1.4" stroke-dasharray="6.3 2.4"/>
<text x="1040.0" y="668.8" font-size="10.3" font-weight="normal" text-anchor="start" fill="#222" textLength="59.5" lengthAdjust="spacingAndGlyphs">Low Alarm rh</text>
<rect x="1117.2" y="659.2" width="10.4" height="10.4" fill="#f4f4f4" stroke="#8e8f8f" stroke-width="1"/>
<rect x="1118.8" y="660.8" width="7.2" height="7.2" fill="#e9ebee" stroke="#c9cdd3" stroke-width="0.8"/>
<line x1="1132.5" y1="664.4" x2="1158.0" y2="664.4" stroke="#7fa9cf" stroke-width="1.4" stroke-dasharray="6.3 3.4 2 3.4"/>
<text x="1163.7" y="668.8" font-size="10.3" font-weight="normal" text-anchor="start" fill="#222" textLength="62.8" lengthAdjust="spacingAndGlyphs">High Alarm rh</text>
<text x="210.4" y="739" font-size="25.6" fill="#141414" textLength="86.6" lengthAdjust="spacingAndGlyphs">Zdjęcie</text>
<text x="306.0" y="739" font-size="25.6" fill="#141414" textLength="113.6" lengthAdjust="spacingAndGlyphs">2:Wykres</text>
<text x="427.0" y="739" font-size="25.6" fill="#141414" textLength="101.0" lengthAdjust="spacingAndGlyphs">pomiaru</text>
<text x="536.0" y="739" font-size="25.6" fill="#141414" textLength="152.0" lengthAdjust="spacingAndGlyphs">temperatury</text>
<text x="697.6" y="739" font-size="25.6" fill="#141414" textLength="15.2" lengthAdjust="spacingAndGlyphs">T</text>
<text x="720.9" y="739" font-size="25.6" fill="#141414">[</text>
<text x="729.1" y="730.0" font-size="16.6" fill="#141414" textLength="9.8" lengthAdjust="spacingAndGlyphs">o</text>
<text x="740.2" y="739" font-size="25.6" fill="#141414" textLength="23.1" lengthAdjust="spacingAndGlyphs">C]</text>
<text x="772.0" y="739" font-size="25.6" fill="#141414" textLength="52.0" lengthAdjust="spacingAndGlyphs">oraz</text>
<text x="832.0" y="739" font-size="25.6" fill="#141414" textLength="136.0" lengthAdjust="spacingAndGlyphs">wilgotności</text>
<text x="977.0" y="739" font-size="25.6" fill="#141414" textLength="165.0" lengthAdjust="spacingAndGlyphs">bezwzględnej</text>
<text x="1151.4" y="739" font-size="25.6" fill="#141414" textLength="33.2" lengthAdjust="spacingAndGlyphs">RH</text>
<text x="1193.7" y="739" font-size="25.6" fill="#141414" textLength="35.9" lengthAdjust="spacingAndGlyphs">[%]</text>
<text x="1236.7" y="739" font-size="25.6" fill="#141414" textLength="57.9" lengthAdjust="spacingAndGlyphs">wraz</text>
<text x="1303.2" y="739" font-size="25.6" fill="#141414" textLength="10.9" lengthAdjust="spacingAndGlyphs">z</text>
<text x="1321.4" y="739" font-size="25.6" fill="#141414" textLength="141.6" lengthAdjust="spacingAndGlyphs">wyliczanym</text>
<text x="298.7" y="775" font-size="25.6" fill="#141414" textLength="120.9" lengthAdjust="spacingAndGlyphs">„punktem</text>
<text x="428.0" y="775" font-size="25.6" fill="#141414" textLength="64.0" lengthAdjust="spacingAndGlyphs">rosy”</text>
<text x="502.4" y="775" font-size="25.6" fill="#141414">[</text>
<text x="510.5" y="766.0" font-size="16.6" fill="#141414" textLength="9.6" lengthAdjust="spacingAndGlyphs">o</text>
<text x="521.3" y="775" font-size="25.6" fill="#141414" textLength="22.6" lengthAdjust="spacingAndGlyphs">C]</text>
<text x="554.2" y="775" font-size="25.6" fill="#141414" textLength="19.3" lengthAdjust="spacingAndGlyphs">w</text>
<text x="580.4" y="775" font-size="25.6" fill="#141414" textLength="74.2" lengthAdjust="spacingAndGlyphs">czasie</text>
<text x="662.5" y="775" font-size="25.6" fill="#141414" textLength="8.3" lengthAdjust="spacingAndGlyphs">t</text>
<text x="679.2" y="775" font-size="25.6" fill="#141414" textLength="14.9" lengthAdjust="spacingAndGlyphs">=</text>
<text x="702.0" y="775" font-size="25.6" fill="#141414" textLength="42.9" lengthAdjust="spacingAndGlyphs">28h</text>
<text x="752.0" y="775" font-size="25.6" fill="#141414" textLength="118.6" lengthAdjust="spacingAndGlyphs">wewnątrz</text>
<text x="878.0" y="775" font-size="25.6" fill="#141414" textLength="76.0" lengthAdjust="spacingAndGlyphs">worka</text>
<text x="961.4" y="775" font-size="25.6" fill="#141414" textLength="203.2" lengthAdjust="spacingAndGlyphs">antykorozyjnego</text>
<text x="1172.3" y="775" font-size="25.6" fill="#141414" textLength="41.5" lengthAdjust="spacingAndGlyphs">VCI</text>
<text x="1220.7" y="775" font-size="25.6" fill="#141414" textLength="156.6" lengthAdjust="spacingAndGlyphs">Zerust/Excor</text>
<text x="392.0" y="810.6" font-size="25.6" fill="#141414" textLength="106.0" lengthAdjust="spacingAndGlyphs">(warunki</text>
<text x="506.0" y="810.6" font-size="25.6" fill="#141414" textLength="178.6" lengthAdjust="spacingAndGlyphs">atmosferyczne</text>
<text x="692.0" y="810.6" font-size="25.6" fill="#141414" textLength="116.0" lengthAdjust="spacingAndGlyphs">sztucznie</text>
<text x="813.7" y="810.6" font-size="25.6" fill="#141414" textLength="157.6" lengthAdjust="spacingAndGlyphs">wywoływane</text>
<text x="978.5" y="810.6" font-size="25.6" fill="#141414" textLength="19.0" lengthAdjust="spacingAndGlyphs">w</text>
<text x="1006.0" y="810.6" font-size="25.6" fill="#141414" textLength="108.0" lengthAdjust="spacingAndGlyphs">komorze</text>
<text x="1121.4" y="810.6" font-size="25.6" fill="#141414" textLength="161.6" lengthAdjust="spacingAndGlyphs">klimatycznej)</text>
<text x="326.4" y="1745.6" font-size="25.6" fill="#141414" textLength="86.6" lengthAdjust="spacingAndGlyphs">Zdjęcie</text>
<text x="421.4" y="1745.6" font-size="25.6" fill="#141414" textLength="113.9" lengthAdjust="spacingAndGlyphs">3:Wykres</text>
<text x="543.7" y="1745.6" font-size="25.6" fill="#141414" textLength="100.9" lengthAdjust="spacingAndGlyphs">pomiaru</text>
<text x="652.0" y="1745.6" font-size="25.6" fill="#141414" textLength="152.6" lengthAdjust="spacingAndGlyphs">temperatury</text>
<text x="814.0" y="1745.6" font-size="25.6" fill="#141414" textLength="15.2" lengthAdjust="spacingAndGlyphs">T</text>
<text x="836.7" y="1745.6" font-size="25.6" fill="#141414">[</text>
<text x="845.1" y="1736.6" font-size="16.6" fill="#141414" textLength="10.0" lengthAdjust="spacingAndGlyphs">o</text>
<text x="856.3" y="1745.6" font-size="25.6" fill="#141414" textLength="23.6" lengthAdjust="spacingAndGlyphs">C]</text>
<text x="888.0" y="1745.6" font-size="25.6" fill="#141414" textLength="51.6" lengthAdjust="spacingAndGlyphs">oraz</text>
<text x="947.0" y="1745.6" font-size="25.6" fill="#141414" textLength="137.6" lengthAdjust="spacingAndGlyphs">wilgotności</text>
<text x="1092.7" y="1745.6" font-size="25.6" fill="#141414" textLength="165.3" lengthAdjust="spacingAndGlyphs">bezwzględnej</text>
<text x="1267.0" y="1745.6" font-size="25.6" fill="#141414" textLength="33.6" lengthAdjust="spacingAndGlyphs">RH</text>
<text x="1309.4" y="1745.6" font-size="25.6" fill="#141414" textLength="36.9" lengthAdjust="spacingAndGlyphs">[%]</text>
<text x="458.7" y="1785.3" font-size="25.6" fill="#141414" textLength="55.9" lengthAdjust="spacingAndGlyphs">wraz</text>
<text x="523.2" y="1785.3" font-size="25.6" fill="#141414" textLength="11.6" lengthAdjust="spacingAndGlyphs">z</text>
<text x="542.0" y="1785.3" font-size="25.6" fill="#141414" textLength="142.0" lengthAdjust="spacingAndGlyphs">wyliczanym</text>
<text x="692.0" y="1785.3" font-size="25.6" fill="#141414" textLength="121.0" lengthAdjust="spacingAndGlyphs">„punktem</text>
<text x="822.0" y="1785.3" font-size="25.6" fill="#141414" textLength="64.3" lengthAdjust="spacingAndGlyphs">rosy”</text>
<text x="895.7" y="1785.3" font-size="25.6" fill="#141414">[</text>
<text x="903.9" y="1776.3" font-size="16.6" fill="#141414" textLength="9.8" lengthAdjust="spacingAndGlyphs">o</text>
<text x="914.9" y="1785.3" font-size="25.6" fill="#141414" textLength="23.0" lengthAdjust="spacingAndGlyphs">C]</text>
<text x="947.5" y="1785.3" font-size="25.6" fill="#141414" textLength="19.3" lengthAdjust="spacingAndGlyphs">w</text>
<text x="973.7" y="1785.3" font-size="25.6" fill="#141414" textLength="124.3" lengthAdjust="spacingAndGlyphs">godzinach</text>
<text x="1107.0" y="1785.3" font-size="25.6" fill="#141414" textLength="29.3" lengthAdjust="spacingAndGlyphs">14</text>
<text x="1135.4" y="1775.8" font-size="16.4" fill="#141414" textLength="21.2" lengthAdjust="spacingAndGlyphs">30</text>
<text x="1156.8" y="1785.3" font-size="25.6" fill="#141414" textLength="8.8" lengthAdjust="spacingAndGlyphs">-</text>
<text x="1165.4" y="1785.3" font-size="25.6" fill="#141414" textLength="29.2" lengthAdjust="spacingAndGlyphs">16</text>
<text x="1193.7" y="1775.8" font-size="16.4" fill="#141414" textLength="21.2" lengthAdjust="spacingAndGlyphs">30</text>
<rect x="492.8" y="857" width="689.5" height="838.7" rx="3" fill="#fff" stroke="#000" stroke-width="5.6"/>
<rect x="497.9" y="862.4" width="679" height="828.4" fill="none" stroke="#000" stroke-width="1.8"/>
<line x1="598.2" y1="890.2" x2="1086.7" y2="890.2" stroke="#c97b7b" stroke-width="1.5" stroke-dasharray="1.5 1.66"/>
<line x1="598.2" y1="936.9" x2="1086.7" y2="936.9" stroke="#c97b7b" stroke-width="1.5" stroke-dasharray="1.5 1.66"/>
<line x1="598.2" y1="983.6" x2="1086.7" y2="983.6" stroke="#c97b7b" stroke-width="1.5" stroke-dasharray="1.5 1.66"/>
<line x1="598.2" y1="1030.3" x2="1086.7" y2="1030.3" stroke="#c97b7b" stroke-width="1.5" stroke-dasharray="1.5 1.66"/>
<line x1="598.2" y1="1076.8" x2="1086.7" y2="1076.8" stroke="#c97b7b" stroke-width="1.5" stroke-dasharray="1.5 1.66"/>
<line x1="598.2" y1="1123.8" x2="1086.7" y2="1123.8" stroke="#c97b7b" stroke-width="1.5" stroke-dasharray="1.5 1.66"/>
<line x1="598.2" y1="1170.4" x2="1086.7" y2="1170.4" stroke="#c97b7b" stroke-width="1.5" stroke-dasharray="1.5 1.66"/>
<line x1="598.2" y1="1217.0" x2="1086.7" y2="1217.0" stroke="#c97b7b" stroke-width="1.5" stroke-dasharray="1.5 1.66"/>
<line x1="598.2" y1="1263.8" x2="1086.7" y2="1263.8" stroke="#c97b7b" stroke-width="1.5" stroke-dasharray="1.5 1.66"/>
<line x1="598.2" y1="1310.6" x2="1086.7" y2="1310.6" stroke="#c97b7b" stroke-width="1.5" stroke-dasharray="1.5 1.66"/>
<line x1="598.2" y1="1357.3" x2="1086.7" y2="1357.3" stroke="#c97b7b" stroke-width="1.5" stroke-dasharray="1.5 1.66"/>
<line x1="598.2" y1="1404.0" x2="1086.7" y2="1404.0" stroke="#c97b7b" stroke-width="1.5" stroke-dasharray="1.5 1.66"/>
<line x1="598.2" y1="1452.6" x2="1086.7" y2="1452.6" stroke="#c97b7b" stroke-width="1.5" stroke-dasharray="1.5 1.66"/>
<line x1="598.2" y1="1498.9" x2="1086.7" y2="1498.9" stroke="#c97b7b" stroke-width="1.5" stroke-dasharray="1.5 1.66"/>
<line x1="598.2" y1="1545.7" x2="1086.7" y2="1545.7" stroke="#c97b7b" stroke-width="1.5" stroke-dasharray="1.5 1.66"/>
<line x1="598.2" y1="1592.4" x2="1086.7" y2="1592.4" stroke="#c97b7b" stroke-width="1.5" stroke-dasharray="1.5 1.66"/>
<line x1="600.0" y1="889.6" x2="600.0" y2="1599.5" stroke="#c97b7b" stroke-width="1.5" stroke-dasharray="1.5 1.66"/>
<line x1="748.8" y1="889.6" x2="748.8" y2="1599.5" stroke="#c97b7b" stroke-width="1.5" stroke-dasharray="1.5 1.66"/>
<line x1="897.7" y1="889.6" x2="897.7" y2="1599.5" stroke="#c97b7b" stroke-width="1.5" stroke-dasharray="1.5 1.66"/>
<line x1="1046.5" y1="889.6" x2="1046.5" y2="1599.5" stroke="#c97b7b" stroke-width="1.5" stroke-dasharray="1.5 1.66"/>
<line x1="591.2" y1="888.6" x2="1088.7" y2="888.6" stroke="#6d6d6d" stroke-width="2.2"/>
<line x1="1087.7" y1="888.6" x2="1087.7" y2="1606.5" stroke="#555" stroke-width="1.8"/>
<line x1="592.2" y1="890.2" x2="599.2" y2="890.2" stroke="#2a2a2a" stroke-width="1.8"/>
<text x="585.8" y="892.8" font-size="12.3" font-weight="bold" text-anchor="end" fill="#111">100,0</text>
<line x1="592.2" y1="936.9" x2="599.2" y2="936.9" stroke="#2a2a2a" stroke-width="1.8"/>
<text x="585.8" y="940.3" font-size="12.3" font-weight="bold" text-anchor="end" fill="#111">90,0</text>
<line x1="592.2" y1="983.6" x2="599.2" y2="983.6" stroke="#2a2a2a" stroke-width="1.8"/>
<text x="585.8" y="987.0" font-size="12.3" font-weight="bold" text-anchor="end" fill="#111">80,0</text>
<line x1="592.2" y1="1030.3" x2="599.2" y2="1030.3" stroke="#2a2a2a" stroke-width="1.8"/>
<text x="585.8" y="1033.7" font-size="12.3" font-weight="bold" text-anchor="end" fill="#111">70,0</text>
<line x1="592.2" y1="1076.8" x2="599.2" y2="1076.8" stroke="#2a2a2a" stroke-width="1.8"/>
<text x="585.8" y="1080.2" font-size="12.3" font-weight="bold" text-anchor="end" fill="#111">60,0</text>
<line x1="592.2" y1="1123.8" x2="599.2" y2="1123.8" stroke="#2a2a2a" stroke-width="1.8"/>
<text x="585.8" y="1127.2" font-size="12.3" font-weight="bold" text-anchor="end" fill="#111">50,0</text>
<line x1="592.2" y1="1170.4" x2="599.2" y2="1170.4" stroke="#2a2a2a" stroke-width="1.8"/>
<text x="585.8" y="1173.8" font-size="12.3" font-weight="bold" text-anchor="end" fill="#111">40,0</text>
<line x1="592.2" y1="1217.0" x2="599.2" y2="1217.0" stroke="#2a2a2a" stroke-width="1.8"/>
<text x="585.8" y="1220.4" font-size="12.3" font-weight="bold" text-anchor="end" fill="#111">30,0</text>
<line x1="592.2" y1="1263.8" x2="599.2" y2="1263.8" stroke="#2a2a2a" stroke-width="1.8"/>
<text x="585.8" y="1267.2" font-size="12.3" font-weight="bold" text-anchor="end" fill="#111">20,0</text>
<line x1="592.2" y1="1310.6" x2="599.2" y2="1310.6" stroke="#2a2a2a" stroke-width="1.8"/>
<text x="585.8" y="1314.0" font-size="12.3" font-weight="bold" text-anchor="end" fill="#111">10,0</text>
<line x1="592.2" y1="1357.3" x2="599.2" y2="1357.3" stroke="#2a2a2a" stroke-width="1.8"/>
<text x="585.8" y="1360.7" font-size="12.3" font-weight="bold" text-anchor="end" fill="#111">0,0</text>
<line x1="592.2" y1="1404.0" x2="599.2" y2="1404.0" stroke="#2a2a2a" stroke-width="1.8"/>
<text x="585.8" y="1407.4" font-size="12.3" font-weight="bold" text-anchor="end" fill="#111">-10,0</text>
<line x1="592.2" y1="1452.6" x2="599.2" y2="1452.6" stroke="#2a2a2a" stroke-width="1.8"/>
<text x="585.8" y="1456.0" font-size="12.3" font-weight="bold" text-anchor="end" fill="#111">-20,0</text>
<line x1="592.2" y1="1498.9" x2="599.2" y2="1498.9" stroke="#2a2a2a" stroke-width="1.8"/>
<text x="585.8" y="1502.3" font-size="12.3" font-weight="bold" text-anchor="end" fill="#111">-30,0</text>
<line x1="592.2" y1="1545.7" x2="599.2" y2="1545.7" stroke="#2a2a2a" stroke-width="1.8"/>
<text x="585.8" y="1549.1" font-size="12.3" font-weight="bold" text-anchor="end" fill="#111">-40,0</text>
<line x1="592.2" y1="1592.4" x2="599.2" y2="1592.4" stroke="#2a2a2a" stroke-width="1.8"/>
<text x="585.8" y="1595.8" font-size="12.3" font-weight="bold" text-anchor="end" fill="#111">-50,0</text>
<line x1="1079.7" y1="891.5" x2="1087.7" y2="891.5" stroke="#333" stroke-width="1.6"/>
<text x="1094.0" y="894.6" font-size="12.3" font-weight="bold" text-anchor="start" fill="#111">110,0</text>
<line x1="1079.7" y1="950.0" x2="1087.7" y2="950.0" stroke="#333" stroke-width="1.6"/>
<text x="1094.0" y="953.1" font-size="12.3" font-weight="bold" text-anchor="start" fill="#111">100,0</text>
<line x1="1079.7" y1="1008.5" x2="1087.7" y2="1008.5" stroke="#333" stroke-width="1.6"/>
<text x="1094.0" y="1011.6" font-size="12.3" font-weight="bold" text-anchor="start" fill="#111">90,0</text>
<line x1="1079.7" y1="1066.8" x2="1087.7" y2="1066.8" stroke="#333" stroke-width="1.6"/>
<text x="1094.0" y="1069.9" font-size="12.3" font-weight="bold" text-anchor="start" fill="#111">80,0</text>
<line x1="1079.7" y1="1125.0" x2="1087.7" y2="1125.0" stroke="#333" stroke-width="1.6"/>
<text x="1094.0" y="1128.1" font-size="12.3" font-weight="bold" text-anchor="start" fill="#111">70,0</text>
<line x1="1079.7" y1="1183.5" x2="1087.7" y2="1183.5" stroke="#333" stroke-width="1.6"/>
<text x="1094.0" y="1186.6" font-size="12.3" font-weight="bold" text-anchor="start" fill="#111">60,0</text>
<line x1="1079.7" y1="1242.0" x2="1087.7" y2="1242.0" stroke="#333" stroke-width="1.6"/>
<text x="1094.0" y="1245.1" font-size="12.3" font-weight="bold" text-anchor="start" fill="#111">50,0</text>
<line x1="1079.7" y1="1300.4" x2="1087.7" y2="1300.4" stroke="#333" stroke-width="1.6"/>
<text x="1094.0" y="1303.5" font-size="12.3" font-weight="bold" text-anchor="start" fill="#111">40,0</text>
<line x1="1079.7" y1="1358.8" x2="1087.7" y2="1358.8" stroke="#333" stroke-width="1.6"/>
<text x="1094.0" y="1361.9" font-size="12.3" font-weight="bold" text-anchor="start" fill="#111">30,0</text>
<line x1="1079.7" y1="1417.2" x2="1087.7" y2="1417.2" stroke="#333" stroke-width="1.6"/>
<text x="1094.0" y="1420.3" font-size="12.3" font-weight="bold" text-anchor="start" fill="#111">20,0</text>
<line x1="1079.7" y1="1476.8" x2="1087.7" y2="1476.8" stroke="#333" stroke-width="1.6"/>
<text x="1094.0" y="1479.9" font-size="12.3" font-weight="bold" text-anchor="start" fill="#111">10,0</text>
<line x1="1079.7" y1="1535.6" x2="1087.7" y2="1535.6" stroke="#333" stroke-width="1.6"/>
<text x="1094.0" y="1538.7" font-size="12.3" font-weight="bold" text-anchor="start" fill="#111">0,0</text>
<line x1="1079.7" y1="1594.5" x2="1087.7" y2="1594.5" stroke="#333" stroke-width="1.6"/>
<text x="1094.0" y="1597.6" font-size="12.3" font-weight="bold" text-anchor="start" fill="#111">-10,0</text>
<line x1="600.0" y1="1598.5" x2="600.0" y2="1605.5" stroke="#2a2a2a" stroke-width="1.8"/>
<text x="602.2" y="1634.0" font-size="12.6" font-weight="bold" text-anchor="middle" fill="#111">14:30:00</text>
<line x1="748.8" y1="1598.5" x2="748.8" y2="1605.5" stroke="#2a2a2a" stroke-width="1.8"/>
<text x="751.0" y="1634.0" font-size="12.6" font-weight="bold" text-anchor="middle" fill="#111">15:00:00</text>
<line x1="897.7" y1="1598.5" x2="897.7" y2="1605.5" stroke="#2a2a2a" stroke-width="1.8"/>
<text x="899.9" y="1634.0" font-size="12.6" font-weight="bold" text-anchor="middle" fill="#111">15:30:00</text>
<line x1="1046.5" y1="1598.5" x2="1046.5" y2="1605.5" stroke="#2a2a2a" stroke-width="1.8"/>
<text x="1048.7" y="1634.0" font-size="12.6" font-weight="bold" text-anchor="middle" fill="#111">16:00:00</text>
<text transform="translate(523.8,1256.7) rotate(-90)" font-size="13.2" font-weight="bold" text-anchor="middle" fill="#222">°C</text>
<text transform="translate(1158.7,1256.3) rotate(-90)" font-size="12.6" font-weight="bold" text-anchor="middle" fill="#222">%rh</text>
<rect x="750.8" y="1312.3" width="76.8" height="141.8" fill="#9aa4b0" opacity="0.35" filter="url(#blur2)"/>
<rect x="748.8" y="1310.3" width="76.8" height="141.8" fill="#99ccff"/>
<line x1="748.8" y1="1357.3" x2="825.6" y2="1357.3" stroke="#b88a9a" stroke-width="1.5" stroke-dasharray="1.5 1.66"/>
<line x1="748.8" y1="1404.0" x2="825.6" y2="1404.0" stroke="#b88a9a" stroke-width="1.5" stroke-dasharray="1.5 1.66"/>
<polyline points="599.5,1161.7 605.0,1136.5 609.7,1120.7 614.9,1108.1 619.9,1102.6 625.5,1120.7 630.2,1145.9 634.9,1163.3 640.4,1175.9 645.2,1186.9 649.6,1189.8 654.6,1174.3 660.1,1158.6 665.6,1139.6 671.2,1123.9 675.9,1111.3 679.5,1102.6 684.5,1113.6 689.3,1134.9 694.0,1155.4 698.7,1169.6 704.2,1183.0 709.3,1189.8 714.5,1183.8 719.2,1164.9 724.7,1147.5 731.8,1127.0 738.9,1107.3 744.1,1095.5 745.2,1070.3 746.8,1030.9 749.2,997.8 753.9,985.2 759.4,982.1 768.9,975.8 778.3,975.8 783.8,978.9 788.5,978.9 794.1,982.1 803.5,982.1 808.7,979.2 810.6,1007.3 813.5,1045.9 818.5,1073.5 823.2,1101.8 828.7,1134.1 833.5,1134.1 838.2,1145.2 843.9,1150.8 853.1,1157.4 858.1,1151.6 862.8,1151.6 868.4,1154.7 873.1,1154.7 883.3,1148.9 892.8,1148.9 903.0,1142.9 912.5,1142.9 917.5,1175.2 923.2,1181.2 927.5,1181.2 933.0,1175.2 937.7,1172.1 942.4,1166.5 947.9,1163.1 952.7,1157.4 962.1,1152.0 967.6,1146.1 977.4,1140.1 987.3,1133.8 992.1,1119.7 997.3,1125.3 1012.5,1125.3 1017.3,1122.7 1022.0,1122.7 1037.0,1113.8 1042.2,1113.8 1046.7,1108.2 1049.3,1079.9 1051.9,1055.0 1056.7,1046.8 1061.9,1052.3 1066.9,1061.3 1071.6,1071.7 1076.4,1080.7 1079.5,1084.9" fill="none" stroke="#7fa9cf" stroke-width="1.9" stroke-linejoin="round"/>
<polyline points="1080.3,1093.3 1087.1,1093.3" fill="none" stroke="#7fa9cf" stroke-width="1.9"/>
<polyline points="598.7,1421.9 605.0,1418.2 614.9,1409.6 619.9,1408.3 625.5,1411.9 634.9,1419.8 640.4,1422.2 649.6,1427.7 659.3,1423.4 669.6,1414.3 674.3,1412.4 679.8,1408.3 694.0,1416.7 704.2,1424.6 709.3,1428.2 714.5,1426.9 719.2,1424.6 724.7,1419.4 729.5,1417.5 738.9,1409.6 744.1,1404.9 746.0,1389.1 749.2,1371.8 753.9,1356.8 759.4,1336.3 764.1,1317.4 768.9,1302.4 773.6,1290.6 779.1,1277.2 783.8,1264.6 788.5,1252.8 794.1,1241.3 798.8,1232.3 808.2,1217.0 813.0,1218.6 818.5,1211.8 823.2,1211.3 827.9,1213.9 833.5,1211.8 839.0,1213.9 843.2,1213.5 848.7,1216.7 853.4,1217.0 858.1,1215.9 862.8,1215.9 873.1,1220.9 877.8,1220.4 883.3,1222.0 892.8,1222.0 897.5,1223.3 903.0,1223.0 907.8,1225.2 912.5,1225.2 917.5,1234.3 922.7,1239.8 927.5,1242.2 937.7,1248.8 947.9,1250.9 957.4,1254.0 967.6,1257.2 977.4,1260.3 981.8,1259.5 987.3,1261.1 992.1,1260.8 997.3,1261.9 1002.3,1263.5 1007.0,1263.9 1012.5,1266.1 1017.3,1266.1 1022.0,1267.7 1031.5,1266.9 1037.0,1268.7 1042.2,1269.0 1046.7,1267.7 1049.6,1261.1 1051.9,1256.4 1056.7,1250.9 1061.9,1249.3 1066.9,1246.6 1071.6,1246.1 1079.5,1244.1" fill="none" stroke="#a6ff4d" stroke-width="1.9" stroke-linejoin="round"/>
<polyline points="1080.3,1222.2 1087.1,1222.2" fill="none" stroke="#a6ff4d" stroke-width="1.9"/>
<polyline points="598.7,1395.7 605.0,1395.4 614.9,1390.4 629.4,1390.4 634.9,1392.6 639.6,1392.6 649.6,1397.3 659.3,1397.3 669.6,1392.6 674.3,1392.2 679.5,1390.4 694.0,1390.4 709.3,1397.3 719.2,1397.3 724.7,1395.1 729.5,1395.1 738.9,1390.4 744.1,1387.8 746.8,1379.6 749.2,1370.2 753.9,1356.0 759.4,1335.5 764.1,1316.6 768.9,1300.8 773.6,1288.2 779.1,1275.6 783.8,1263.0 788.5,1250.4 794.1,1239.4 798.8,1229.9 808.2,1212.6 810.6,1209.0 815.3,1197.9 819.3,1190.1 823.2,1184.6 827.9,1182.5 833.5,1180.3 839.0,1180.1 843.2,1177.6 848.7,1179.9 862.8,1179.9 873.1,1184.7 877.8,1184.7 883.3,1187.0 892.8,1187.0 897.5,1189.4 903.0,1189.4 907.8,1191.8 912.5,1191.8 917.5,1194.6 922.7,1198.9 927.5,1201.2 937.7,1210.7 947.9,1215.4 957.4,1220.1 967.6,1224.9 977.4,1229.3 981.8,1229.3 992.1,1234.0 997.3,1234.0 1002.3,1236.2 1007.0,1236.2 1012.5,1238.7 1017.3,1238.7 1022.0,1240.9 1031.5,1240.9 1037.0,1243.0 1046.7,1243.0 1051.2,1240.9 1056.7,1236.2 1061.9,1233.5 1066.9,1229.3 1071.6,1226.9 1079.5,1223.3" fill="none" stroke="#ff5f5f" stroke-width="1.9" stroke-linejoin="round"/>
<polyline points="1080.3,1198.9 1087.1,1198.9" fill="none" stroke="#ff5f5f" stroke-width="1.9"/>
<line x1="591.4000000000001" y1="887.6" x2="591.4000000000001" y2="1606.5" stroke="#2a2a2a" stroke-width="2.3"/>
<line x1="590.4000000000001" y1="1605.5" x2="1088.7" y2="1605.5" stroke="#2a2a2a" stroke-width="1.8"/>
<line x1="592.9" y1="1249.4" x2="592.9" y2="1251.6" stroke="#ff5f5f" stroke-width="1.2"/>
<line x1="592.9" y1="1276.2" x2="592.9" y2="1278.4" stroke="#a6ff4d" stroke-width="1.2"/>
<line x1="747.7" y1="1153" x2="747.7" y2="1452" stroke="#f01010" stroke-width="2.6" stroke-dasharray="8.5 2.6"/>
<line x1="826.3" y1="1154.6" x2="826.3" y2="1452" stroke="#f01010" stroke-width="2.6" stroke-dasharray="8.5 2.6"/>
<text x="785.0" y="1417.8" font-size="16.4" font-weight="bold" text-anchor="middle" fill="#000" textLength="41.8" lengthAdjust="spacingAndGlyphs">woda</text>
<path d="M745.8 1453.3 L768.6 1443.1 L763.2 1451.4 L809.2 1451.4 L803.8 1443.1 L826.6 1453.3 L803.8 1463.5 L809.2 1455.2 L763.2 1455.2 L768.6 1463.5 Z" fill="#222" opacity="0.7" transform="translate(3.5,3.5)" filter="url(#blur1)"/>
<path d="M745.8 1453.3 L768.6 1443.1 L763.2 1451.4 L809.2 1451.4 L803.8 1443.1 L826.6 1453.3 L803.8 1463.5 L809.2 1455.2 L763.2 1455.2 L768.6 1463.5 Z" fill="#e0101c"/>
<rect x="622.6" y="1474.6" width="333" height="88.6" fill="#8a94a0" opacity="0.4" filter="url(#blur2)"/>
<rect x="619.6" y="1471.6" width="333" height="88.6" fill="#2491ff"/>
<line x1="619.6" y1="1498.9" x2="952.6" y2="1498.9" stroke="#5a7fd0" stroke-width="1.5" stroke-dasharray="1.5 1.66" opacity="0.55"/>
<line x1="619.6" y1="1545.7" x2="952.6" y2="1545.7" stroke="#5a7fd0" stroke-width="1.5" stroke-dasharray="1.5 1.66" opacity="0.55"/>
<line x1="748.8" y1="1471.6" x2="748.8" y2="1560.2" stroke="#5a7fd0" stroke-width="1.5" stroke-dasharray="1.5 1.66" opacity="0.55"/>
<line x1="897.7" y1="1471.6" x2="897.7" y2="1560.2" stroke="#5a7fd0" stroke-width="1.5" stroke-dasharray="1.5 1.66" opacity="0.55"/>
<text x="784.6" y="1496.6" font-size="20.5" font-weight="bold" text-anchor="middle" fill="#0c1424" textLength="314.2" lengthAdjust="spacingAndGlyphs">prawdopodobna kondensacja</text>
<text x="785.4" y="1521.5" font-size="20.5" font-weight="bold" text-anchor="middle" fill="#0c1424" textLength="292.3" lengthAdjust="spacingAndGlyphs">pary wodnej na powierzchni</text>
<text x="784.6" y="1545.5" font-size="20.5" font-weight="bold" text-anchor="middle" fill="#0c1424" textLength="235.6" lengthAdjust="spacingAndGlyphs">zapakowanego metalu</text>
<rect x="602.2" y="1656.1" width="13" height="13" fill="#f4f4f4" stroke="#8e8f8f" stroke-width="1"/>
<rect x="603.8" y="1657.7" width="9.8" height="9.8" fill="#e9ebee" stroke="#c9cdd3" stroke-width="0.8"/>
<path d="M605.5 1662.1 L607.7 1666.0 L612.2 1658.8" fill="none" stroke="#26267e" stroke-width="2.50"/>
<line x1="621.0" y1="1663.5" x2="652.4" y2="1663.5" stroke="#ff5f5f" stroke-width="1.6"/>
<text x="658.0" y="1669.2" font-size="12.3" font-weight="normal" text-anchor="start" fill="#222" textLength="58.5" lengthAdjust="spacingAndGlyphs">Celsius(°C)</text>
<rect x="744.9" y="1657.1" width="13" height="13" fill="#f4f4f4" stroke="#8e8f8f" stroke-width="1"/>
<rect x="746.5" y="1658.7" width="9.8" height="9.8" fill="#e9ebee" stroke="#c9cdd3" stroke-width="0.8"/>
<path d="M748.1 1663.1 L750.4 1667.0 L754.9 1659.8" fill="none" stroke="#26267e" stroke-width="2.50"/>
<line x1="763.7" y1="1664.5" x2="795.1" y2="1664.5" stroke="#7fa9cf" stroke-width="1.6"/>
<text x="801.6" y="1670.2" font-size="12.3" font-weight="normal" text-anchor="start" fill="#222" textLength="79.8" lengthAdjust="spacingAndGlyphs">Humidity(%rh)</text>
<rect x="917.7" y="1658.1" width="13" height="13" fill="#f4f4f4" stroke="#8e8f8f" stroke-width="1"/>
<rect x="919.3" y="1659.7" width="9.8" height="9.8" fill="#e9ebee" stroke="#c9cdd3" stroke-width="0.8"/>
<path d="M921.0 1664.1 L923.2 1668.0 L927.7 1660.8" fill="none" stroke="#26267e" stroke-width="2.50"/>
<line x1="936.5" y1="1665.5" x2="967.9" y2="1665.5" stroke="#a6ff4d" stroke-width="1.6"/>
<text x="975.3" y="1671.2" font-size="12.3" font-weight="normal" text-anchor="start" fill="#222" textLength="76.3" lengthAdjust="spacingAndGlyphs">Dew Point(°C)</text>
<path d="M309 481.9 H149 V1047.8 H472" fill="none" stroke="#000" stroke-width="7.6" stroke-linejoin="miter"/>
<path d="M491.7 1047.8 L456.3 1028.3 L470.8 1047.8 L456.3 1067.3 Z" fill="#000"/>
</svg></body></html>
